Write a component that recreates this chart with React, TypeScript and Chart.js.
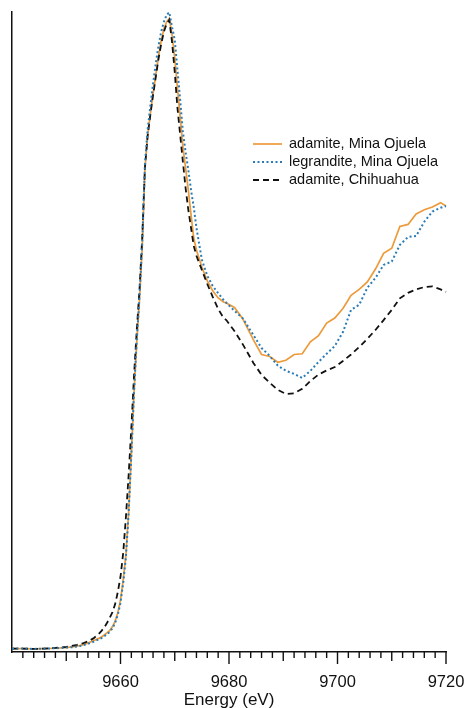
import { useEffect, useRef } from 'react';
import { Chart, registerables } from 'chart.js';

Chart.register(...registerables);

// Photon energy grid (eV) shared by the three normalized spectra
const energy = [
  9640, 9642, 9644, 9646, 9648, 9650, 9651, 9652, 9653, 9654,
  9655, 9656, 9656.5, 9657, 9657.5, 9658, 9658.5, 9659, 9659.5, 9660,
  9660.5, 9661, 9661.5, 9662, 9662.5, 9663, 9663.5, 9664, 9664.5, 9665,
  9665.5, 9666, 9666.5, 9667, 9667.5, 9668, 9668.5, 9669, 9669.5, 9670,
  9670.5, 9671, 9671.5, 9672, 9672.5, 9673, 9673.5, 9674, 9675, 9676,
  9677, 9678, 9679, 9679.5, 9681, 9682.5, 9684.5, 9686, 9687.5, 9689,
  9690.5, 9692, 9693.5, 9695, 9696.5, 9698, 9699.5, 9701, 9702.5, 9704,
  9705.5, 9707, 9708.5, 9710, 9711.5, 9713, 9714.5, 9716, 9717.5, 9719,
  9720,
];

// Normalized absorbance, adamite from Mina Ojuela
const adamiteOjuela = [
  0.001, 0.001, 0.000, 0.001, 0.002, 0.004, 0.006, 0.008, 0.012, 0.017,
  0.024, 0.031, 0.035, 0.041, 0.047, 0.054, 0.065, 0.081, 0.106, 0.144,
  0.203, 0.276, 0.402, 0.570, 0.755, 0.902, 1.025, 1.178, 1.407, 1.507,
  1.572, 1.630, 1.686, 1.739, 1.786, 1.821, 1.842, 1.852, 1.804, 1.736,
  1.648, 1.563, 1.475, 1.413, 1.348, 1.276, 1.207, 1.172, 1.122, 1.081,
  1.052, 1.031, 1.019, 1.016, 1.003, 0.971, 0.908, 0.865, 0.859, 0.842,
  0.848, 0.865, 0.867, 0.902, 0.920, 0.957, 0.972, 1.000, 1.039, 1.056,
  1.078, 1.116, 1.162, 1.177, 1.241, 1.247, 1.278, 1.290, 1.298, 1.311,
  1.301,
];

// Normalized absorbance, legrandite from Mina Ojuela
const legranditeOjuela = [
  0.001, 0.001, 0.000, 0.001, 0.002, 0.004, 0.005, 0.007, 0.010, 0.015,
  0.021, 0.028, 0.032, 0.037, 0.043, 0.050, 0.060, 0.076, 0.100, 0.135,
  0.194, 0.270, 0.400, 0.570, 0.755, 0.908, 1.034, 1.193, 1.422, 1.525,
  1.595, 1.660, 1.719, 1.771, 1.813, 1.842, 1.863, 1.870, 1.827, 1.789,
  1.701, 1.613, 1.519, 1.460, 1.407, 1.348, 1.298, 1.237, 1.143, 1.096,
  1.066, 1.045, 1.025, 1.017, 0.993, 0.972, 0.922, 0.884, 0.861, 0.832,
  0.817, 0.808, 0.796, 0.817, 0.843, 0.867, 0.890, 0.931, 0.996, 1.011,
  1.061, 1.090, 1.128, 1.138, 1.187, 1.210, 1.213, 1.255, 1.285, 1.296,
  1.301,
];

// Normalized absorbance, adamite from Chihuahua
const adamiteChihuahua = [
  0.001, 0.001, 0.000, 0.001, 0.003, 0.006, 0.009, 0.012, 0.016, 0.022,
  0.031, 0.044, 0.053, 0.063, 0.076, 0.091, 0.107, 0.131, 0.167, 0.212,
  0.282, 0.388, 0.511, 0.649, 0.805, 0.937, 1.055, 1.207, 1.413, 1.507,
  1.569, 1.627, 1.680, 1.733, 1.777, 1.813, 1.836, 1.848, 1.783, 1.695,
  1.589, 1.510, 1.431, 1.354, 1.290, 1.237, 1.184, 1.155, 1.113, 1.072,
  1.034, 0.999, 0.972, 0.966, 0.934, 0.896, 0.840, 0.805, 0.782, 0.761,
  0.749, 0.751, 0.764, 0.787, 0.806, 0.818, 0.828, 0.846, 0.865, 0.887,
  0.911, 0.937, 0.966, 0.996, 1.030, 1.046, 1.056, 1.063, 1.065, 1.056,
  1.049,
];

const seriesLabels = ['adamite, Mina Ojuela', 'legrandite, Mina Ojuela', 'adamite, Chihuahua'];
const labeledTicks = [9660, 9680, 9700, 9720];

const FONT = '"Liberation Sans", Arial, Helvetica, sans-serif';
const INK = '#111111';

const toPoints = (ys: number[]) => energy.map((x, i) => ({ x, y: ys[i] }));

// Minor ticks every 2 eV, medium every 10 eV, long every 20 eV
const energyTicks = {
  id: 'energyTicks',
  afterDraw(chart: any) {
    const xs = chart.scales.x;
    const { ctx } = chart;
    const y0 = chart.chartArea.bottom;
    ctx.save();
    ctx.strokeStyle = INK;
    ctx.lineWidth = 1.4;
    for (let e = 9642; e <= 9720; e += 2) {
      const len = e % 20 === 0 ? 12 : e % 10 === 0 ? 9 : 6;
      const px = xs.getPixelForValue(e);
      ctx.beginPath();
      ctx.moveTo(px, y0);
      ctx.lineTo(px, y0 + len);
      ctx.stroke();
    }
    ctx.restore();
  },
};

// Legend drawn inside the plot area, to the right of the white line
const insetLegend = {
  id: 'insetLegend',
  afterDraw(chart: any) {
    const { ctx, chartArea } = chart;
    const x0 = chartArea.left + 241;
    const x1 = x0 + 29;
    const tx = x1 + 7;
    const top = chartArea.top + 132;
    ctx.save();
    ctx.font = `14.5px ${FONT}`;
    ctx.textBaseline = 'middle';
    ctx.textAlign = 'left';
    chart.data.datasets.forEach((ds: any, i: number) => {
      const y = top + i * 18;
      ctx.beginPath();
      ctx.strokeStyle = ds.borderColor;
      ctx.lineWidth = ds.borderWidth;
      ctx.setLineDash(ds.borderDash || []);
      ctx.moveTo(x0, y);
      ctx.lineTo(x1, y);
      ctx.stroke();
      ctx.setLineDash([]);
      ctx.fillStyle = INK;
      ctx.fillText(ds.label, tx, y);
    });
    ctx.restore();
  },
};

export default function App() {
  const canvasRef = useRef<HTMLCanvasElement | null>(null);

  useEffect(() => {
    const canvas = canvasRef.current;
    if (!canvas) return;
    const chart = new Chart(canvas, {
      type: 'line',
      data: {
        datasets: [
          {
            label: seriesLabels[0],
            data: toPoints(adamiteOjuela),
            borderColor: '#EC9A3A',
            borderWidth: 1.7,
            order: 2,
            clip: 6,
          },
          {
            label: seriesLabels[1],
            data: toPoints(legranditeOjuela),
            borderColor: '#2A7CB8',
            borderWidth: 2,
            borderDash: [2, 2.5],
            order: 0,
            clip: 6,
          },
          {
            label: seriesLabels[2],
            data: toPoints(adamiteChihuahua),
            borderColor: '#111111',
            borderWidth: 1.8,
            borderDash: [6, 4],
            order: 1,
            clip: 6,
          },
        ] as any,
      },
      options: {
        animation: false,
        responsive: false,
        maintainAspectRatio: false,
        devicePixelRatio: 1,
        layout: { padding: { left: 12, right: 19, top: 12, bottom: 0 } },
        elements: {
          point: { radius: 0, hoverRadius: 0 },
          line: { tension: 0, fill: false },
        },
        plugins: {
          legend: { display: false },
          tooltip: { enabled: false },
        },
        events: [],
        scales: {
          x: {
            type: 'linear',
            min: 9640,
            max: 9720,
            afterFit: (s: any) => {
              s.height = 56;
              s.paddingLeft = 0;
              s.paddingRight = 0;
            },
            grid: { display: false, drawTicks: false },
            border: { display: true, color: INK, width: 1.5 },
            ticks: {
              stepSize: 20,
              autoSkip: false,
              maxRotation: 0,
              padding: 21,
              color: INK,
              font: { family: FONT, size: 16.5 },
              callback: (v: any) => (labeledTicks.includes(Number(v)) ? String(v) : ''),
            },
            title: {
              display: true,
              text: 'Energy (eV)',
              color: INK,
              font: { family: FONT, size: 17 },
              padding: { top: 0, bottom: -3 },
            },
          },
          y: {
            type: 'linear',
            min: -0.009,
            max: 1.871,
            afterFit: (s: any) => {
              s.width = 0;
              s.paddingTop = 0;
              s.paddingBottom = 0;
            },
            grid: { display: false, drawTicks: false },
            border: { display: true, color: INK, width: 1.5 },
            ticks: { display: false },
          },
        },
      },
      plugins: [energyTicks, insetLegend],
    });
    return () => chart.destroy();
  }, []);

  return (
    <canvas
      ref={canvasRef}
      width={465}
      height={708}
      style={{ position: 'fixed', left: 0, top: 0, width: 465, height: 708, background: '#fff' }}
    />
  );
}
